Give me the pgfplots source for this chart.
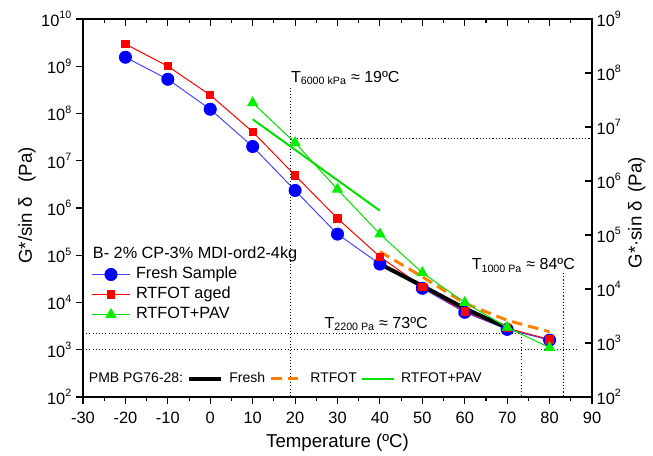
\documentclass[border=0pt]{standalone}
\usepackage{fontspec}
\setmainfont{Liberation Sans}
\usepackage{pgfplots}
\pgfplotsset{compat=1.18}

\definecolor{freshmark}{RGB}{0,0,255}
\definecolor{freshline}{RGB}{70,70,255}
\definecolor{rtfotred}{RGB}{255,0,0}
\definecolor{pavgreen}{RGB}{0,240,0}
\definecolor{pavline}{RGB}{0,225,0}
\definecolor{refblack}{RGB}{0,0,0}
\definecolor{reforange}{RGB}{255,128,0}

% decade labels: 10 with a small raised exponent
\newcommand{\pw}[1]{10\raisebox{5.5pt}{\fontsize{8}{8}\selectfont #1}}

\pgfplotsset{
  commonaxis/.style={
    scale only axis, width=381.75pt, height=283.5pt,
    at={(0pt,0pt)}, anchor=south west,
    xmin=-30, xmax=90,
    axis line style={line width=1.1pt},
    major tick length=5.25pt, minor tick length=3pt,
    every tick/.append style={line width=0.8pt, black},
    tick label style={font=\fontsize{12.3}{14}\selectfont},
    label style={font=\fontsize{14}{16}\selectfont},
    xtick={-30,-20,-10,0,10,20,30,40,50,60,70,80,90},
    minor x tick num=1,
  },
  refdot/.style={black, line width=0.75pt, dash pattern=on 0.8pt off 1.6pt},
}

% G*/sin(delta) of the fresh and RTFOT-aged binder (Pa)
\pgfplotstableread{
T     G
-20   1.55e9
-10   5.3e8
0     1.23e8
10    2.0e7
20    2.35e6
30    2.8e5
40    6.5e4
50    2.0e4
60    6.2e3
70    2.7e3
80    1.6e3
}\freshdata
\pgfplotstableread{
T     G
-20   2.95e9
-10   1.0e9
0     2.45e8
10    4.1e7
20    4.9e6
30    6.0e5
40    9.3e4
50    2.15e4
60    6.4e3
70    2.85e3
80    1.65e3
}\rtfotdata
% G*.sin(delta) after RTFOT+PAV (Pa), right-hand scale
\pgfplotstableread{
T     G
10    2.8e7
20    5.1e6
30    7.0e5
40    1.04e5
50    2.0e4
60    5.6e3
70    1.95e3
80    8.2e2
}\pavdata
% PMB PG76-28 reference binder
\pgfplotstableread{
T     G
40    6.5e4
50    2.25e4
60    7.5e3
70    2.9e3
}\pmbfresh
\pgfplotstableread{
T     G
40    1.19e5
50    3.5e4
60    9.6e3
70    4.2e3
80    2.4e3
}\pmbrtfot
\pgfplotstableread{
T     G
10    1.39e7
40    2.82e5
}\pmbpav

\begin{document}
\begin{tikzpicture}
\path[use as bounding box] (-62.25pt,-44.25pt) rectangle (427.5pt,297.75pt);

% ---- left scale: G*/sin delta ----
\begin{axis}[
  commonaxis,
  ymode=log, log basis y=10,
  ymin=1e2, ymax=1e10,
  ytick={1e2,1e3,1e4,1e5,1e6,1e7,1e8,1e9,1e10},
  yticklabels={\pw{2},\pw{3},\pw{4},\pw{5},\pw{6},\pw{7},\pw{8},\pw{9},\pw{10}},
  xticklabels={-30,-20,-10,0,10,20,30,40,50,60,70,80,90},
  xticklabel style={yshift=-2.25pt},
  xtick pos=left, ytick pos=left, tick align=outside,
  xlabel={Temperature (ºC)},
  ylabel={G*/sin δ\hspace{0.8em}(Pa)},
  xlabel style={at={(axis description cs:0.5,-0.121)}, anchor=center},
  ylabel style={at={(axis description cs:-0.110,0.507)}, anchor=center},
  legend image code/.code={\draw[mark repeat=2,mark phase=2,#1] plot coordinates {(0pt,0pt) (14.1pt,0pt) (28.2pt,0pt)};},
  legend cell align=left,
  legend style={at={(axis description cs:0.0171,0.344)}, anchor=north west,
    draw=none, fill=none, inner sep=0pt, outer sep=0pt,
    font=\fontsize{12.2}{14}\selectfont, column sep=4.3pt, row sep=3.7pt,
    nodes={inner sep=0pt, text height=8.7pt, text depth=2.6pt}},
]
% threshold guides
\addplot[refdot, forget plot] coordinates {(19,3.5e8) (19,1e2)};
\addplot[refdot, forget plot] coordinates {(-30,2200) (73.3,2200) (73.3,1e2)};
\addplot[refdot, forget plot] coordinates {(-30,1000) (86.5,1000)};
\addplot[refdot, forget plot] coordinates {(83.3,4.2e4) (83.3,1e2)};

\addplot[freshline, line width=0.75pt, mark=*, mark size=4.5pt,
  mark options={solid, fill=freshmark, draw=freshmark}, forget plot] table[x=T, y=G] {\freshdata};
\addplot[rtfotred, line width=0.75pt, mark=square*, mark size=2.75pt,
  mark options={solid, fill=rtfotred, draw=rtfotred}, forget plot] table[x=T, y=G] {\rtfotdata};
\addplot[refblack, line width=3pt, forget plot] table[x=T, y=G] {\pmbfresh};
\addplot[reforange, line width=2.25pt, dash pattern=on 8pt off 4.5pt, forget plot] table[x=T, y=G] {\pmbrtfot};

\addlegendimage{freshline, line width=0.75pt, mark=*, mark size=4.5pt, mark options={solid, fill=freshmark, draw=freshmark}}
\addlegendentry{Fresh Sample}
\addlegendimage{rtfotred, line width=0.75pt, mark=square*, mark size=2.75pt, mark options={solid, fill=rtfotred, draw=rtfotred}}
\addlegendentry{RTFOT aged}
\addlegendimage{pavline, line width=0.75pt, mark=triangle*, mark size=4.2pt, mark options={solid, fill=pavgreen, draw=pavgreen}}
\addlegendentry{RTFOT+PAV}

\node[anchor=base west, inner sep=0pt, font=\fontsize{12.2}{14}\selectfont]
  at (axis description cs:0.019,0.3664) {B- 2\% CP-3\% MDI-ord2-4kg};
\node[anchor=base west, inner sep=0pt, font=\fontsize{12}{14}\selectfont]
  at (axis cs:19,4.55e8) {T\textsubscript{6000 kPa} ≈ 19ºC};
\node[anchor=base west, inner sep=0pt, font=\fontsize{12}{14}\selectfont]
  at (axis cs:26.9,2830) {T\textsubscript{2200 Pa} ≈ 73ºC};
\node[anchor=base west, inner sep=0pt, font=\fontsize{12}{14}\selectfont]
  at (axis cs:61.6,4.94e4) {T\textsubscript{1000 Pa} ≈ 84ºC};
\end{axis}

% ---- right scale: G*.sin delta ----
\begin{axis}[
  commonaxis,
  ymode=log, log basis y=10,
  ymin=1e2, ymax=1e9,
  ytick={1e2,1e3,1e4,1e5,1e6,1e7,1e8,1e9},
  yticklabels={\pw{2},\pw{3},\pw{4},\pw{5},\pw{6},\pw{7},\pw{8},\pw{9}},
  xticklabels={},
  xtick pos=right, ytick pos=right, yticklabel pos=right, tick align=inside,
  ylabel={G*·sin δ\hspace{0.45em}(Pa)},
  ylabel style={at={(axis description cs:1.088,0.487)}, anchor=center, rotate=0},
  legend image code/.code={\draw[#1] (0pt,0pt) -- (24pt,0pt);},
  legend columns=-1,
  legend style={at={(axis description cs:0.0,0.0648)}, anchor=north west,
    draw=none, fill=none, inner sep=0pt, outer sep=0pt,
    font=\fontsize{10.5}{12}\selectfont, column sep=0pt,
    /tikz/every odd column/.append style={column sep=4.5pt},
    /tikz/every even column/.append style={column sep=3.2pt},
    nodes={inner sep=0pt, text height=7.5pt, text depth=2.2pt}},
]
\addplot[refdot, forget plot] coordinates {(19,6e6) (90,6e6)};
\addplot[pavline, line width=1.5pt, forget plot] table[x=T, y=G] {\pmbpav};
\addplot[pavline, line width=0.75pt, mark=triangle*, mark size=4.2pt,
  mark options={solid, fill=pavgreen, draw=pavgreen}, forget plot] table[x=T, y=G] {\pavdata};

\addlegendimage{empty legend}
\addlegendentry{PMB PG76-28:}
\addlegendimage{refblack, line width=3pt}
\addlegendentry{Fresh}
\addlegendimage{reforange, line width=2.25pt, dash pattern=on 8pt off 4.5pt}
\addlegendentry{RTFOT}
\addlegendimage{pavline, line width=1.5pt}
\addlegendentry{RTFOT+PAV}
\end{axis}
\end{tikzpicture}
\end{document}
